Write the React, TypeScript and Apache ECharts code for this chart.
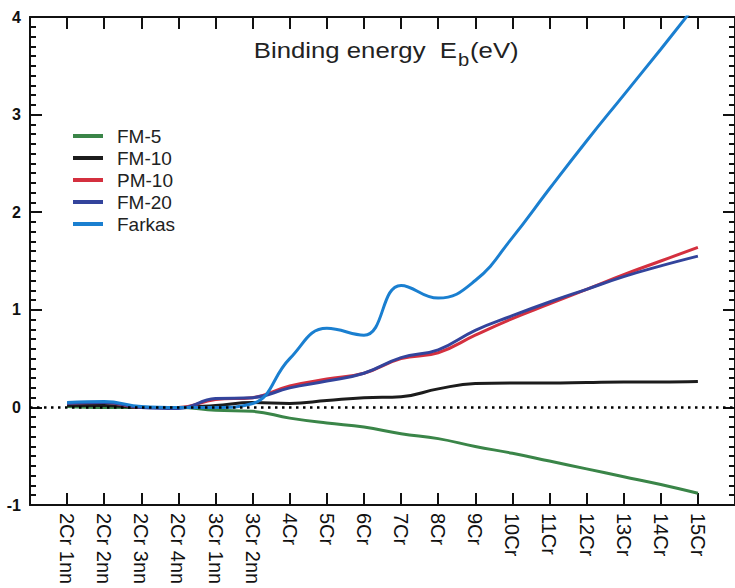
import React, { useEffect, useRef } from "react";
import * as echarts from "echarts";

const categories = ["2Cr 1nn", "2Cr 2nn", "2Cr 3nn", "2Cr 4nn", "3Cr 1nn", "3Cr 2nn", "4Cr", "5Cr", "6Cr", "7Cr", "8Cr", "9Cr", "10Cr", "11Cr", "12Cr", "13Cr", "14Cr", "15Cr"];
const yTicks = [-1, 0, 1, 2, 3, 4];

const fm5 = [0.01, 0.0, 0.0, 0.0, -0.03, -0.04, -0.11, -0.16, -0.2, -0.27, -0.32, -0.4, -0.47, -0.55, -0.63, -0.71, -0.79, -0.88];
const fm10 = [0.02, 0.02, 0.0, 0.0, 0.02, 0.05, 0.04, 0.07, 0.1, 0.11, 0.19, 0.245, 0.25, 0.25, 0.255, 0.26, 0.26, 0.265];
const pm10 = [0.04, 0.05, 0.0, 0.0, 0.08, 0.1, 0.22, 0.29, 0.35, 0.5, 0.56, 0.74, 0.91, 1.06, 1.21, 1.36, 1.5, 1.64];
const fm20 = [0.04, 0.05, 0.0, -0.01, 0.09, 0.1, 0.2, 0.27, 0.35, 0.51, 0.59, 0.79, 0.94, 1.08, 1.21, 1.34, 1.45, 1.55];
const farkas = [0.05, 0.06, 0.01, 0.0, 0.0, 0.04, 0.5, 0.81, 0.74, 1.25, 1.12, 1.3, 1.74, 2.24, 2.73, 3.2, 3.67, 4.15];

const seriesNames = ["FM-5", "FM-10", "PM-10", "FM-20", "Farkas"];
const seriesValues = [fm5, fm10, pm10, fm20, farkas];
const seriesColors = ["#3a8548", "#1c1c1c", "#d4303f", "#33449c", "#1a7fd0"];

const titleMain = "Binding energy  E";
const titleSub = "b";
const titleUnit = "(eV)";

const FONT = "'Liberation Sans', Arial, Helvetica, sans-serif";

export default function App() {
  const ref = useRef<HTMLDivElement>(null);
  useEffect(() => {
    if (!ref.current) return;
    const chart = echarts.init(ref.current, null, { renderer: "svg" });
    const axisLineStyle = { color: "#111", width: 2 };
    const xAxisBase = {
      type: "value",
      min: -1,
      max: 18,
      interval: 1,
      axisLine: { show: true, onZero: false, lineStyle: axisLineStyle },
      axisTick: { show: true, inside: true, length: 12, lineStyle: { color: "#111", width: 2 } },
      splitLine: { show: false },
    };
    const yAxisBase = {
      type: "value",
      min: yTicks[0],
      max: yTicks[yTicks.length - 1],
      interval: 1,
      axisLine: { show: true, onZero: false, lineStyle: axisLineStyle },
      axisTick: { show: true, inside: true, length: 12, lineStyle: { color: "#111", width: 2 } },
      minorTick: { show: true, splitNumber: 10, length: 6, lineStyle: { color: "#111", width: 2 } },
      splitLine: { show: false },
    };
    const titleStyle = { fontSize: 23, fontFamily: FONT, fill: "#222", verticalAlign: "middle" };
    chart.setOption({
      animation: false,
      backgroundColor: "#fff",
      textStyle: { fontFamily: FONT },
      grid: { left: 30, right: -2, top: 17, bottom: 83, containLabel: false },
      legend: {
        orient: "vertical",
        left: 73,
        top: 126,
        icon: "rect",
        itemWidth: 30,
        itemHeight: 4,
        itemGap: 2,
        padding: 0,
        data: seriesNames,
        textStyle: { fontFamily: FONT, fontSize: 19, lineHeight: 20, color: "#222", padding: [0, 0, 0, 9] },
      },
      graphic: [
        {
          type: "text",
          x: 457,
          y: 50,
          scaleX: 1.12,
          style: { ...titleStyle, text: titleMain, align: "right" },
        },
        {
          type: "text",
          x: 458,
          y: 60,
          scaleX: 1.12,
          style: { ...titleStyle, fontSize: 18, text: titleSub, align: "left" },
        },
        {
          type: "text",
          x: 470,
          y: 50,
          scaleX: 1.12,
          style: { ...titleStyle, text: titleUnit, align: "left" },
        },
      ],
      xAxis: [
        {
          ...xAxisBase,
          position: "bottom",
          axisLabel: {
            show: true,
            rotate: -90,
            margin: 8,
            fontSize: 20,
            fontFamily: FONT,
            color: "#111",
            formatter: (v: number) => categories[Math.round(v)] ?? "",
          },
        },
        { ...xAxisBase, position: "top", axisLabel: { show: false } },
      ],
      yAxis: [
        {
          ...yAxisBase,
          position: "left",
          axisLabel: { show: true, margin: 9, fontSize: 16, fontWeight: "bold", fontFamily: FONT, color: "#111" },
        },
        { ...yAxisBase, position: "right", axisLabel: { show: false } },
      ],
      series: seriesNames.map((name, si) => ({
        name,
        type: "line",
        xAxisIndex: 0,
        yAxisIndex: 0,
        smooth: 0.45,
        symbol: "none",
        showSymbol: false,
        clip: true,
        color: seriesColors[si],
        lineStyle: { color: seriesColors[si], width: 3 },
        data: seriesValues[si].map((v, i) => [i, v]),
        markLine:
          si === 0
            ? {
                silent: true,
                symbol: ["none", "none"],
                label: { show: false },
                lineStyle: { color: "#000", type: [2.5, 4.5], width: 2.5 },
                data: [{ yAxis: 0 }],
              }
            : undefined,
      })),
    });
    return () => chart.dispose();
  }, []);
  return (
    <div
      ref={ref}
      style={{ position: "absolute", left: 0, top: 0, width: 735, height: 588, background: "#fff" }}
    />
  );
}
